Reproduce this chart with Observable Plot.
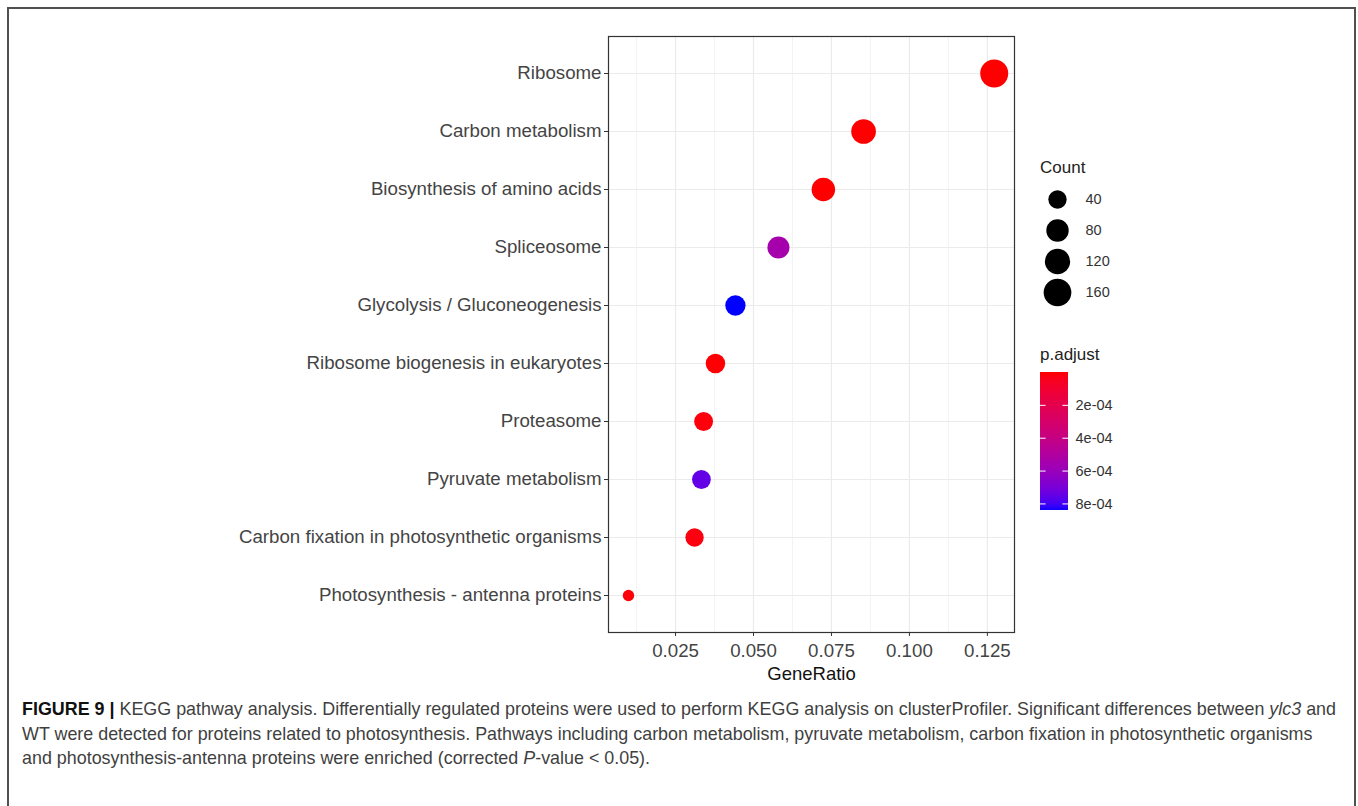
<!DOCTYPE html>
<html>
<head>
<meta charset="utf-8">
<script src="https://cdn.jsdelivr.net/npm/d3@7"></script>
<script src="https://cdn.jsdelivr.net/npm/@observablehq/plot@0.6"></script>
<style>
  html, body { margin: 0; padding: 0; background: #fff; width: 1358px; height: 806px; overflow: hidden; }
  #page { position: relative; width: 1358px; height: 806px; font-family: "Liberation Sans", Arial, sans-serif; }
  #border { position: absolute; left: 7px; top: 7px; width: 1349px; height: 900px; border: 2px solid #505050; box-sizing: border-box; }
  .abs { position: absolute; }
  .legtitle { font-size: 17px; color: #222; }
  #caption { position: absolute; left: 22px; top: 697px; font-size: 17.9px; line-height: 24.5px; color: #3f3f3f; white-space: nowrap; }
  #caption b { color: #111; }
</style>
</head>
<body>
<div id="page">
  <div id="border"></div>
  <div id="main" class="abs" style="left:0;top:0"></div>
  <div class="abs legtitle" style="left:1040px;top:158px">Count</div>
  <div id="sizeleg" class="abs" style="left:1030px;top:150px"></div>
  <div class="abs legtitle" style="left:1040px;top:345px">p.adjust</div>
  <div id="colorleg" class="abs" style="left:1030px;top:365px"></div>
  <div id="caption"><b>FIGURE 9 |</b> KEGG pathway analysis. Differentially regulated proteins were used to perform KEGG analysis on clusterProfiler. Significant differences between <i>ylc3</i> and<br>WT were detected for proteins related to photosynthesis. Pathways including carbon metabolism, pyruvate metabolism, carbon fixation in photosynthetic organisms<br>and photosynthesis-antenna proteins were enriched (corrected <i>P</i>-value &lt; 0.05).</div>
</div>
<script>
// ---- data ----
const pathways = [
  "Ribosome",
  "Carbon metabolism",
  "Biosynthesis of amino acids",
  "Spliceosome",
  "Glycolysis / Gluconeogenesis",
  "Ribosome biogenesis in eukaryotes",
  "Proteasome",
  "Pyruvate metabolism",
  "Carbon fixation in photosynthetic organisms",
  "Photosynthesis - antenna proteins"
];
const geneRatio = [0.1272, 0.0853, 0.0724, 0.0580, 0.0442, 0.0378, 0.0340, 0.0333, 0.0311, 0.0099];
const counts    = [166, 111, 94, 76, 57, 49, 44, 43, 40, 13];
const pAdjust   = [1e-20, 2e-12, 5e-10, 5.5e-4, 8.4e-4, 4e-6, 1.5e-5, 7.5e-4, 2e-5, 1e-5];

const xTicks = [0.025, 0.050, 0.075, 0.100, 0.125];
const xMinor = [0.0125, 0.0375, 0.0625, 0.0875, 0.1125];
const countLegend = [40, 80, 120, 160];
const pTicks = [2e-4, 4e-4, 6e-4, 8e-4];

const data = pathways.map((name, i) => ({ name, ratio: geneRatio[i], count: counts[i], p: pAdjust[i] }));
const cmin = d3.min(counts), cmax = d3.max(counts);
const pmin = d3.min(pAdjust), pmax = d3.max(pAdjust);
const sizeVal = c => Math.sqrt(Math.max(0, (c - cmin) / (cmax - cmin)));
const rScale = { type: "linear", domain: [0, 1], range: [5.7, 14] };
const colorScale = { type: "linear", domain: [pmin, pmax], range: ["#FF0000", "#0000FF"], interpolate: "lab" };
const font = "Liberation Sans, Arial, sans-serif";
const rfmt = d => { const [m, e] = d.toExponential().split("e"); const s = e[0] === "-" ? "-" : "+"; const n = e.replace(/[-+]/, ""); return m + "e" + s + n.padStart(2, "0"); };

// ---- main chart ----
const W = 1030, H = 690;
const main = Plot.plot({
  width: W, height: H,
  marginLeft: 608, marginRight: W - 1014, marginTop: 36, marginBottom: H - 632,
  style: { fontFamily: font, fontSize: "18.7px", color: "#444", background: "transparent" },
  x: { domain: [0.0035, 0.1337] },
  y: { type: "point", domain: pathways, padding: 0.6 },
  r: rScale,
  color: colorScale,
  marks: [
    Plot.ruleX(xMinor, { stroke: "#F0F0F0", strokeWidth: 0.8 }),
    Plot.ruleX(xTicks, { stroke: "#EBEBEB", strokeWidth: 1.2 }),
    Plot.ruleY(pathways, { stroke: "#EBEBEB", strokeWidth: 1.2 }),
    Plot.dot(data, { x: "ratio", y: "name", r: d => sizeVal(d.count), fill: "p", stroke: null }),
    Plot.frame({ stroke: "#333", strokeWidth: 1.2 }),
    Plot.axisX({ ticks: xTicks, tickFormat: d3.format(".3f"), tickSize: 4, tickPadding: 7, stroke: "#333", label: null }),
    Plot.axisY({ tickSize: 4, tickPadding: 3, stroke: "#333", label: null }),
    Plot.text(["GeneRatio"], { frameAnchor: "bottom", dy: 42, text: d => d, lineAnchor: "middle", fill: "#111", fontSize: 18.5 })
  ]
});
document.getElementById("main").appendChild(main);

// ---- size legend ----
const sizeLeg = Plot.plot({
  width: 120, height: 170,
  margin: 0,
  style: { fontFamily: font, fontSize: "14.5px", color: "#333", background: "transparent" },
  y: { type: "point", domain: countLegend.map(String), range: [49, 142], padding: 0, axis: null },
  r: rScale,
  marks: [
    Plot.dot(countLegend, { y: d => String(d), r: d => sizeVal(d), fill: "black", frameAnchor: "left", dx: 27 }),
    Plot.text(countLegend, { y: d => String(d), text: d => String(d), frameAnchor: "left", dx: 55, textAnchor: "start", fill: "#333" })
  ]
});
document.getElementById("sizeleg").appendChild(sizeLeg);

// ---- color legend ----
const nSteps = 69;
const stepW = (pmax - pmin) / nSteps;
const steps = d3.range(nSteps).map(i => pmin + i * stepW);
const colorLeg = Plot.plot({
  width: 120, height: 160,
  margin: 0,
  style: { fontFamily: font, fontSize: "14.5px", color: "#333", background: "transparent" },
  x: { domain: [0, 1], range: [10, 38], axis: null },
  y: { domain: [pmin, pmax], range: [7, 145], axis: null },
  color: colorScale,
  marks: [
    Plot.rect(steps, { x1: 0, x2: 1, y1: d => d, y2: d => Math.min(pmax, d + stepW * 1.6), fill: d => d + stepW / 2, stroke: null, shapeRendering: "crispEdges" }),
    Plot.ruleY(pTicks, { x1: 0, x2: 0.2, stroke: "white", strokeWidth: 1 }),
    Plot.ruleY(pTicks, { x1: 0.8, x2: 1, stroke: "white", strokeWidth: 1 }),
    Plot.text(pTicks, { y: d => d, x: 1, dx: 7, text: rfmt, textAnchor: "start", fill: "#333" })
  ]
});
document.getElementById("colorleg").appendChild(colorLeg);
</script>
</body>
</html>
